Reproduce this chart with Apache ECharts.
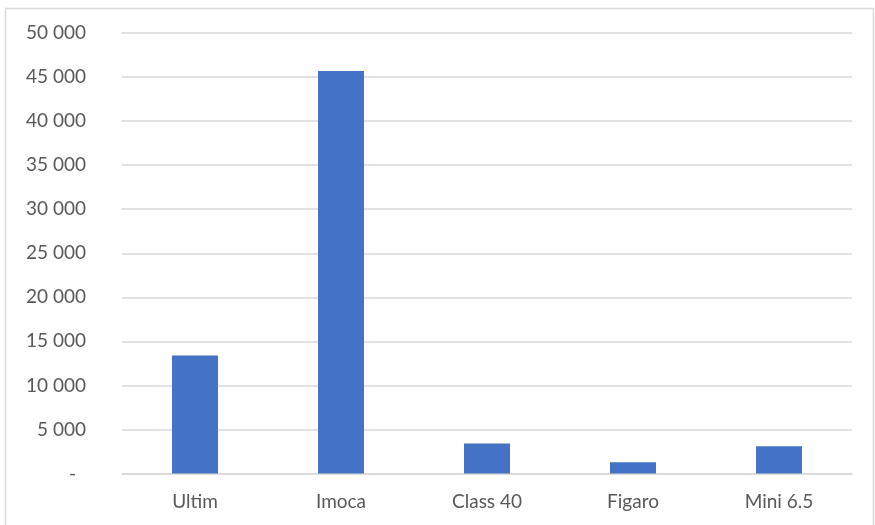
<!DOCTYPE html>
<html>
<head>
<meta charset="utf-8">
<script src="https://cdn.jsdelivr.net/npm/echarts@6/dist/echarts.min.js"></script>
<style>
html,body{margin:0;padding:0;background:#fff;}
#chart{width:875px;height:525px;}
</style>
</head>
<body>
<div id="chart"></div>
<script>
const categories = ['Ultim', 'Imoca', 'Class 40', 'Figaro', 'Mini 6.5'];
const values = [13400, 45700, 3400, 1270, 3100];
const yMin = 0, yMax = 50000, yStep = 5000;

function fmt(v) {
  if (v === 0) return '{d|-}';
  return String(v).replace(/\B(?=(\d{3})+(?!\d))/g, ' ');
}

const chart = echarts.init(document.getElementById('chart'), null, {renderer: 'canvas'});
chart.setOption({
  animation: false,
  backgroundColor: '#fff',
  textStyle: {fontFamily: 'Lato, "Noto Sans", sans-serif'},
  graphic: [{
    type: 'rect',
    shape: {x: 5.5, y: 8.5, width: 868, height: 520},
    style: {fill: 'none', stroke: '#d9d9d9', lineWidth: 1.5},
    silent: true
  }],
  grid: {left: 122, right: 23, top: 33, bottom: 51.5, containLabel: false},
  xAxis: {
    type: 'category',
    data: categories,
    axisLine: {show: true, lineStyle: {color: '#d9d9d9', width: 1.5}},
    axisTick: {show: false},
    axisLabel: {color: '#595959', fontSize: 19, margin: 19}
  },
  yAxis: {
    type: 'value',
    min: yMin, max: yMax, interval: yStep,
    axisLine: {show: false},
    axisTick: {show: false},
    splitLine: {lineStyle: {color: '#d9d9d9', width: 1.5}},
    axisLabel: {
      color: '#595959', fontSize: 19, margin: 36, formatter: fmt,
      rich: {d: {color: '#595959', fontSize: 19, padding: [0, 10, 0, 0]}}
    }
  },
  series: [{
    type: 'bar',
    data: values,
    barWidth: '31.5%',
    itemStyle: {color: '#4472c4'}
  }]
});
</script>
</body>
</html>
